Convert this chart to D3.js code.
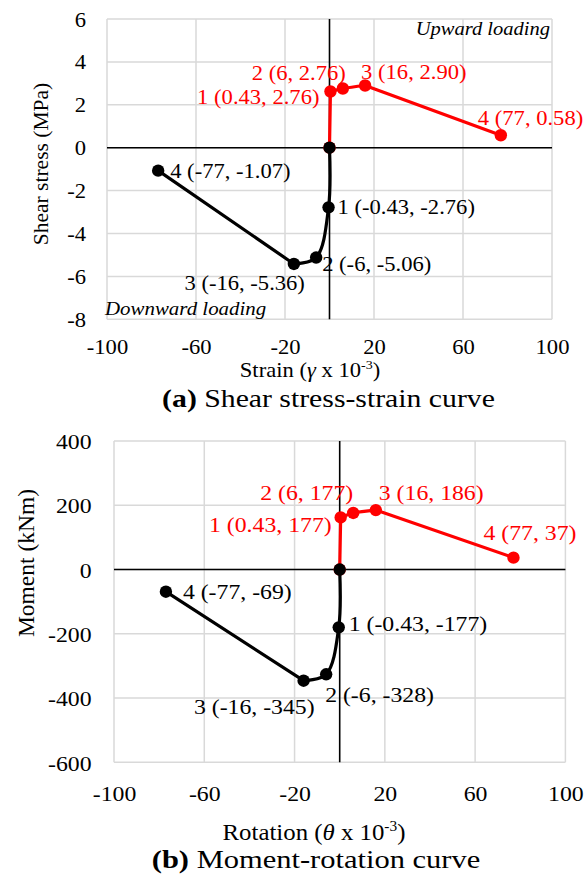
<!DOCTYPE html>
<html>
<head>
<meta charset="utf-8">
<script src="https://cdn.jsdelivr.net/npm/d3@7"></script>
<style>
  body { margin: 0; background: #fff; }
  text { font-family: "Liberation Serif", "Times New Roman", serif; }
</style>
</head>
<body>
<script>
// ---- data ----
const xTicks = [-100, -60, -20, 20, 60, 100];
const stressTicks = [-8, -6, -4, -2, 0, 2, 4, 6];
const momentTicks = [-600, -400, -200, 0, 200, 400];

// (a) shear stress - strain
const strainUp = [0, 0.43, 6, 16, 77];
const stressUp = [0, 2.62, 2.76, 2.90, 0.58];
const strainDown = [0, -0.43, -6, -16, -77];
const stressDown = [0, -2.78, -5.12, -5.42, -1.07];
const stressUpLabels = ["", "1 (0.43, 2.76)", "2 (6, 2.76)", "3 (16, 2.90)", "4 (77, 0.58)"];
const stressDownLabels = ["", "1 (-0.43, -2.76)", "2 (-6, -5.06)", "3 (-16, -5.36)", "4 (-77, -1.07)"];

// (b) moment - rotation
const rotUp = [0, 0.43, 6, 16, 77];
const momentUp = [0, 162, 176, 185, 37];
const rotDown = [0, -0.43, -6, -16, -77];
const momentDown = [0, -180, -326, -346, -69];
const momentUpLabels = ["", "1 (0.43, 177)", "2 (6, 177)", "3 (16, 186)", "4 (77, 37)"];
const momentDownLabels = ["", "1 (-0.43, -177)", "2 (-6, -328)", "3 (-16, -345)", "4 (-77, -69)"];

// label placement (pixel offsets from each point: dx, dy, anchor)
const offA_up = [null, [-11, 5, "end"], [3, -16, "end"], [-4, -14, "start"], [-23, -17, "start"]];
const offA_down = [null, [9, 0, "start"], [6, 6, "start"], [11, 19, "end"], [12, 0, "start"]];
const offB_up = [null, [-9, 7, "end"], [0, -21, "end"], [3, -18, "start"], [-30, -25, "start"]];
const offB_down = [null, [10, -4, "start"], [-1, 20, "start"], [11, 26, "end"], [17, 0, "start"]];

const svg = d3.select("body").append("svg")
  .attr("width", 586).attr("height", 874);
svg.append("rect").attr("width", 586).attr("height", 874).attr("fill", "#fff");

function txt(g, x, y, s, o) {
  o = o || {};
  const sx = o.sx || 1;
  const t = g.append("text")
    .attr("transform", `translate(${x},${y}) scale(${sx},1)`)
    .attr("text-anchor", o.anchor || "start")
    .attr("dy", "0.35em")
    .attr("font-size", o.size || 20)
    .attr("fill", o.color || "#000");
  if (o.italic) t.attr("font-style", "italic");
  if (s) t.text(s);
  return t;
}

function panel(p) {
  const g = svg.append("g");
  const x = d3.scaleLinear().domain([-100, 100]).range([p.left, p.right]);
  const y = d3.scaleLinear().domain(p.yDomain).range([p.bottom, p.top]);

  // gridlines
  g.append("g").selectAll("line").data(xTicks).join("line")
    .attr("x1", d => x(d)).attr("x2", d => x(d))
    .attr("y1", p.top).attr("y2", p.bottom)
    .attr("stroke", "#d9d9d9").attr("stroke-width", 1.5);
  g.append("g").selectAll("line").data(p.yTicks).join("line")
    .attr("x1", p.left).attr("x2", p.right)
    .attr("y1", d => y(d)).attr("y2", d => y(d))
    .attr("stroke", "#d9d9d9").attr("stroke-width", 1.5);

  // zero axes
  g.append("line").attr("x1", p.left).attr("x2", p.right)
    .attr("y1", y(0)).attr("y2", y(0)).attr("stroke", "#000").attr("stroke-width", 1.6);
  g.append("line").attr("x1", x(0)).attr("x2", x(0))
    .attr("y1", p.top).attr("y2", p.bottom).attr("stroke", "#000").attr("stroke-width", 1.6);

  // tick labels
  const ay = g.append("g").attr("transform", `translate(${p.left},0)`)
    .call(d3.axisLeft(y).tickValues(p.yTicks).tickSize(0).tickPadding(p.yPad).tickFormat(d => String(d)));
  ay.select(".domain").remove();
  ay.attr("font-family", null).attr("font-size", p.fs);
  ay.selectAll("text").attr("fill", "#000").attr("dy", "0.35em")
    .attr("x", -p.yPad / p.sx).attr("transform", `scale(${p.sx},1)`);

  const ax = g.append("g").attr("transform", `translate(0,${p.bottom})`)
    .call(d3.axisBottom(x).tickValues(xTicks).tickSize(0).tickFormat(d => String(d)));
  ax.select(".domain").remove();
  ax.attr("font-family", null).attr("font-size", p.fs);
  ax.selectAll("text").attr("fill", "#000").attr("y", p.xPad).attr("dy", "0.35em")
    .attr("transform", `scale(${p.sx},1)`);

  // series: straight up to s.from, smoothed to point 3, straight to the last one
  const smooth = d3.line().x(d => x(d[0])).y(d => y(d[1])).curve(d3.curveCatmullRom.alpha(0.5));
  const straight = d3.line().x(d => x(d[0])).y(d => y(d[1]));
  p.series.forEach(s => {
    const pts = s.xs.map((v, i) => [v, s.ys[i]]);
    let d = straight(pts.slice(0, s.from + 1));
    d += smooth(pts.slice(s.from, 4)).replace(/^M/, "L");
    d += straight(pts.slice(3)).replace(/^M/, "L");
    g.append("path").attr("d", d)
      .attr("fill", "none").attr("stroke", s.color).attr("stroke-width", 3.2)
      .attr("stroke-linejoin", "round");
    g.append("g").selectAll("circle").data(pts).join("circle")
      .attr("cx", d => x(d[0])).attr("cy", d => y(d[1])).attr("r", 6.2)
      .attr("fill", s.color);
    pts.forEach((d, i) => {
      if (!s.labels[i]) return;
      const o = s.off[i];
      txt(g, x(d[0]) + o[0], y(d[1]) + o[1], s.labels[i],
        { anchor: o[2], size: p.fs, color: s.color, sx: p.sx });
    });
  });

  // y title
  g.append("text")
    .attr("transform", `translate(${p.yTitleX},${p.yTitleY}) rotate(-90)`)
    .attr("text-anchor", "middle").attr("dy", "0.35em")
    .attr("font-size", p.yTitleSize).text(p.yTitle);

  // x title
  const xt = txt(g, p.xTitleX, p.xTitleY, null, { anchor: "middle", size: p.xTitleSize, sx: p.sx });
  xt.append("tspan").text(p.xTitle + " (");
  xt.append("tspan").attr("font-style", "italic").text(p.sym);
  xt.append("tspan").text(" x 10");
  xt.append("tspan").attr("font-size", p.xTitleSize * 0.62).attr("dy", -p.xTitleSize * 0.4).text("-3");
  xt.append("tspan").attr("dy", p.xTitleSize * 0.4).text(")");

  // caption
  const ct = txt(g, p.capX, p.capY, null, { anchor: "middle", size: p.capSize, sx: p.capSx });
  ct.append("tspan").attr("font-weight", "bold").text(p.capTag);
  ct.append("tspan").text(" " + p.caption);

  return { g, x, y };
}

const a = panel({
  left: 107, right: 552, top: 19, bottom: 319.3,
  yDomain: [-8, 6], yTicks: stressTicks, fs: 20, sx: 1.13, yPad: 21, xPad: 27.4,
  series: [
    { xs: strainUp, ys: stressUp, color: "#ff0000", labels: stressUpLabels, off: offA_up, from: 1 },
    { xs: strainDown, ys: stressDown, color: "#000", labels: stressDownLabels, off: offA_down, from: 0 }
  ],
  yTitle: "Shear stress (MPa)", yTitleX: 40, yTitleY: 164, yTitleSize: 21.5,
  xTitle: "Strain", sym: "γ", xTitleX: 310, xTitleY: 370, xTitleSize: 20,
  capTag: "(a)", caption: "Shear stress-strain curve", capX: 328.5, capY: 398, capSize: 25, capSx: 1.19
});
txt(a.g, 550, 28.5, "Upward loading", { anchor: "end", size: 19, italic: true, sx: 1.08 });
txt(a.g, 105, 308.5, "Downward loading", { anchor: "start", size: 19, italic: true, sx: 1.1 });

panel({
  left: 114, right: 565.4, top: 441, bottom: 762.3,
  yDomain: [-600, 400], yTicks: momentTicks, fs: 22, sx: 1.08, yPad: 22.5, xPad: 31,
  series: [
    { xs: rotUp, ys: momentUp, color: "#ff0000", labels: momentUpLabels, off: offB_up, from: 1 },
    { xs: rotDown, ys: momentDown, color: "#000", labels: momentDownLabels, off: offB_down, from: 0 }
  ],
  yTitle: "Moment (kNm)", yTitleX: 26, yTitleY: 563, yTitleSize: 23.5,
  xTitle: "Rotation", sym: "θ", xTitleX: 314, xTitleY: 832, xTitleSize: 23,
  capTag: "(b)", caption: "Moment-rotation curve", capX: 316, capY: 859, capSize: 25, capSx: 1.22
});
</script>
</body>
</html>
